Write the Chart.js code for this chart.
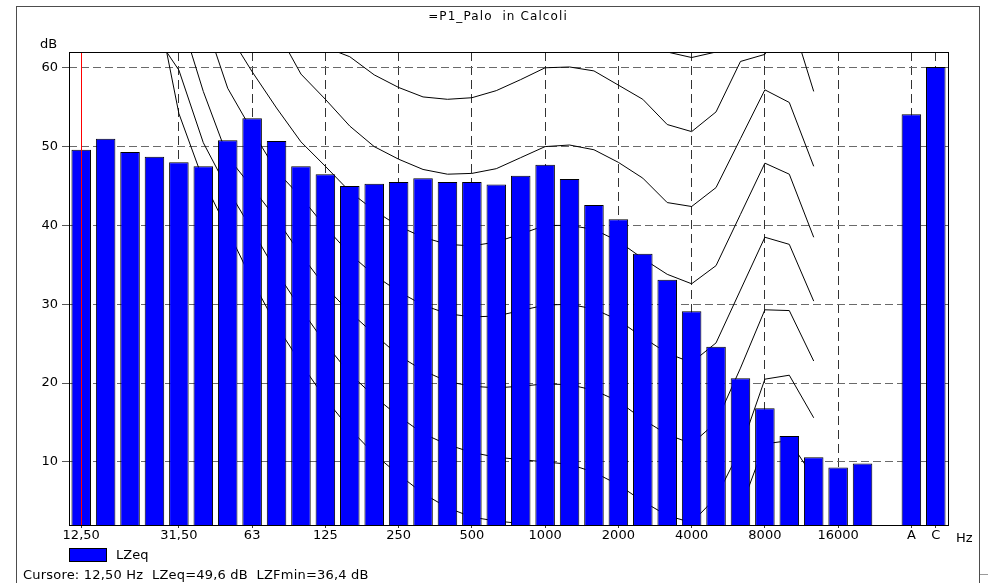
<!DOCTYPE html>
<html>
<head>
<meta charset="utf-8">
<title>=P1_Palo in Calcoli</title>
<script src="https://cdn.jsdelivr.net/npm/chart.js@4.4.1/dist/chart.umd.min.js"></script>
<style>
  html, body { margin: 0; padding: 0; background: #fff; }
  #wrap { position: relative; width: 988px; height: 583px; overflow: hidden; font-family: "DejaVu Sans", sans-serif; color: #000; }
  #spectrumChart { position: absolute; left: 0; top: 0; }
  .txt { position: absolute; font-size: 13px; line-height: 15px; white-space: pre; }
  #title { left: 498px; top: 9px; font-size: 12px; line-height: 14px; letter-spacing: 1.1px; transform: translateX(-50%); }
  #frame { position: absolute; left: 16px; top: 6px; width: 964px; height: 620px; box-sizing: border-box; border: 1px solid #4d4d4d; }
  #swatch { position: absolute; left: 69px; top: 548px; width: 38px; height: 14px; box-sizing: border-box; background: #0000ff; border: 1px solid #000; }
  #stub { position: absolute; left: 980px; top: 574px; width: 8px; height: 1px; background: #9a9a9a; }
</style>
</head>
<body>
<div id="wrap">
  <div id="frame"></div>
  <div id="stub"></div>
  <canvas id="spectrumChart" width="988" height="583"></canvas>
  <div class="txt" id="title">=P1_Palo  in Calcoli</div>
  <div class="txt" style="left:40px; top:36px;">dB</div>
  <div class="txt" style="left:956px; top:530px;">Hz</div>
  <div id="swatch"></div>
  <div class="txt" style="left:116px; top:547px;">LZeq</div>
  <div class="txt" style="left:23px; top:567px; letter-spacing:0.2px;">Cursore: 12,50 Hz  LZeq=49,6 dB  LZFmin=36,4 dB</div>
</div>
<script>
// third-octave bands, then an empty slot and the A / C totals
const bands = ["12,50", "16", "20", "25", "31,50", "40", "50", "63", "80", "100", "125", "160",
  "200", "250", "315", "400", "500", "630", "800", "1000", "1250", "1600", "2000", "2500",
  "3150", "4000", "5000", "6300", "8000", "10000", "12500", "16000", "20000", "", "A", "C"];
const shownLabels = ["12,50", "31,50", "63", "125", "250", "500", "1000", "2000", "4000", "8000", "16000", "A", "C"];
const yTicks = [10, 20, 30, 40, 50, 60];
const cursorIndex = 0;

const lzeq = [49.6, 51.0, 49.3, 48.7, 48.0, 47.5, 50.8, 53.6, 50.7, 47.5, 46.5, 45.0,
  45.3, 45.5, 46.0, 45.5, 45.5, 45.2, 46.3, 47.7, 45.9, 42.6, 40.8, 36.4,
  33.1, 29.1, 24.6, 20.6, 16.8, 13.3, 10.6, 9.3, 9.8, null, 54.1, 60.1];

// equal loudness curves (values above the top of the axis are cut by the plot area)
const curve0 = [null, null, null, 69.8, 54.2, 45.7, 39.4, 33.0, 27.3, 22.5, 18.0, 14.2,
  11.0, 8.4, 6.0, 4.2, 3.0, 2.5, 2.2, 1.2, 0.6, -0.8, -3.0, -5.0,
  -6.2, -6.0, -3.0, 4.0, 12.3, 12.7, 8.0, null, null, null, null, null];
const curve10 = [null, null, null, 64.3, 59.7, 50.5, 44.6, 39.4, 34.1, 29.4, 25.0, 21.2,
  18.3, 15.8, 13.6, 12.2, 11.2, 10.6, 10.3, 10.0, 9.7, 8.7, 7.1, 5.0,
  3.2, 2.3, 5.5, 11.6, 20.5, 21.0, 15.6, null, null, null, null, null];
const curve20 = [null, null, null, null, 67.0, 57.0, 48.7, 44.8, 40.8, 36.3, 32.2, 29.0,
  26.2, 23.5, 21.6, 20.2, 19.6, 19.4, 19.6, 19.9, 19.8, 19.1, 17.7, 15.4,
  13.5, 12.3, 15.0, 21.9, 29.3, 29.2, 22.8, null, null, null, null, null];
const curve30 = [null, null, null, null, null, 66.6, 57.4, 52.0, 46.9, 43.6, 39.8, 36.4,
  33.7, 31.6, 29.9, 28.8, 28.4, 28.5, 29.2, 29.9, 30.0, 29.4, 28.0, 25.8,
  23.8, 22.6, 25.1, 31.8, 38.5, 37.6, 30.4, null, null, null, null, null];
const curve40 = [null, null, null, null, null, null, 64.5, 59.5, 54.9, 50.6, 47.5, 44.3,
  41.9, 39.9, 38.5, 37.6, 37.4, 37.9, 38.9, 40.0, 40.0, 39.5, 38.0, 35.8,
  33.8, 32.6, 34.9, 41.4, 47.9, 46.5, 38.5, null, null, null, null, null];
const curve50 = [null, null, null, null, null, null, null, null, 64.8, 59.2, 56.0, 52.6,
  50.0, 48.4, 47.1, 46.5, 46.6, 47.2, 48.6, 50.0, 50.2, 49.6, 48.0, 46.0,
  42.9, 42.4, 44.8, 51.0, 57.2, 55.6, 47.5, null, null, null, null, null];
const curve60 = [null, null, null, null, null, null, null, null, null, null, 62.6, 61.4,
  59.1, 57.5, 56.3, 56.0, 56.2, 57.1, 58.5, 60.0, 60.1, 59.6, 57.8, 56.0,
  52.8, 51.9, 54.4, 60.8, 61.7, 67.0, 57.0, null, null, null, null, null];
const curve70 = [null, null, null, 62, 62, 62, 62, 62, 62, 62, 62, 62,
  62, 62, 62, 62, 62, 62, 62, 62, 62, 62, 62, 62,
  62, 61.3, 62, 62, 62, 62, 62, null, null, null, null, null];

const curves = [curve0, curve10, curve20, curve30, curve40, curve50, curve60, curve70];

const frameAndCursor = {
  id: "frameAndCursor",
  afterDatasetsDraw(chart) {
    const { ctx, chartArea: area, scales } = chart;
    ctx.save();
    ctx.setLineDash([]);
    ctx.lineWidth = 1;
    const cx = Math.round(scales.x.getPixelForValue(cursorIndex)) + 0.5;
    ctx.strokeStyle = "#ff0000";
    ctx.beginPath();
    ctx.moveTo(cx, area.top);
    ctx.lineTo(cx, area.bottom);
    ctx.stroke();
    ctx.strokeStyle = "#000";
    ctx.strokeRect(area.left + 0.5, area.top + 0.5, area.right - area.left, area.bottom - area.top);
    ctx.restore();
  },
};

document.addEventListener("DOMContentLoaded", function () {
  const ctx = document.getElementById("spectrumChart").getContext("2d");
  const tickFont = { family: "DejaVu Sans", size: 13 };

  // higher order is drawn sooner, so the curves sit under the bars
  const lineSets = curves.map(function (values) {
    return {
      type: "line",
      data: values,
      borderColor: "#000",
      borderWidth: 1,
      pointRadius: 0,
      pointHitRadius: 0,
      tension: 0,
      fill: false,
      spanGaps: false,
      order: 2,
    };
  });

  new Chart(ctx, {
    type: "bar",
    data: {
      labels: bands,
      datasets: [
        {
          type: "bar",
          label: "LZeq",
          data: lzeq,
          backgroundColor: "#0000ff",
          borderColor: "#000",
          borderWidth: 1,
          barPercentage: 0.8,
          categoryPercentage: 1,
          order: 1,
        },
      ].concat(lineSets),
    },
    options: {
      responsive: false,
      animation: false,
      devicePixelRatio: 1,
      events: [],
      layout: { padding: { left: 0, top: 52, right: 40, bottom: 0 } },
      plugins: {
        legend: { display: false },
        title: { display: false },
        tooltip: { enabled: false },
      },
      scales: {
        x: {
          offset: true,
          grid: { offset: false, color: "#333", lineWidth: 1, tickLength: 3, tickColor: "#333", tickBorderDash: [] },
          border: { display: false, dash: [9, 5] },
          ticks: { autoSkip: false, maxRotation: 0, minRotation: 0, font: tickFont, color: "#000", padding: 0 },
          afterBuildTicks: function (axis) {
            axis.ticks = axis.ticks.filter(function (t) {
              return shownLabels.indexOf(bands[t.value]) !== -1;
            });
          },
          afterFit: function (axis) {
            axis.height = 58;
          },
        },
        y: {
          min: 2,
          max: 62,
          grid: { color: "#6a6a6a", lineWidth: 1, tickLength: 7, tickColor: "#555", tickBorderDash: [] },
          border: { display: false, dash: [8, 4] },
          ticks: { font: tickFont, color: "#000", padding: 4 },
          afterBuildTicks: function (axis) {
            axis.ticks = yTicks.map(function (v) {
              return { value: v };
            });
          },
          afterFit: function (axis) {
            axis.width = 69;
          },
        },
      },
    },
    plugins: [frameAndCursor],
  });
});
</script>
</body>
</html>
